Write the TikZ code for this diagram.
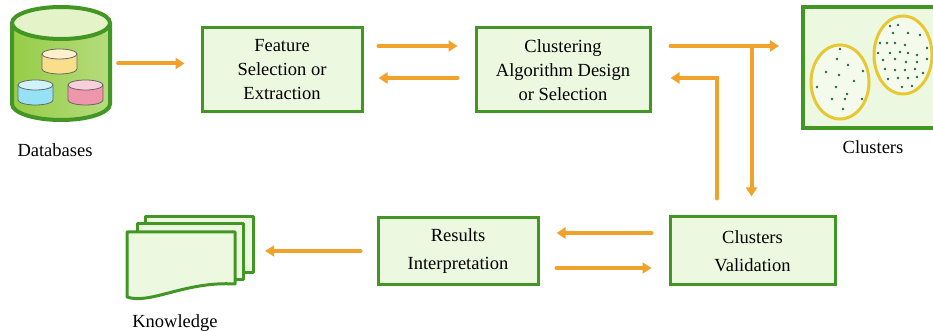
\documentclass[tikz,border=0pt]{standalone}
\usepackage{fontspec}
\setmainfont{Liberation Serif}
\usepackage{tikz}
\usetikzlibrary{calc,arrows.meta}
\definecolor{boxgreen}{RGB}{66,150,36}
\definecolor{boxfill}{RGB}{237,248,224}
\definecolor{flowcolor}{RGB}{240,162,42}
\definecolor{ringcolor}{RGB}{230,200,50}
\definecolor{dotcolor}{RGB}{40,100,70}
\definecolor{dbside}{RGB}{150,205,70}
\definecolor{dblight}{RGB}{228,244,200}
\definecolor{miniyellow}{RGB}{250,222,140}
\definecolor{miniblue}{RGB}{150,225,245}
\definecolor{minired}{RGB}{240,150,170}

\begin{document}
\begin{tikzpicture}[x=1pt,y=1pt,
	stage/.style={draw=boxgreen,line width=3pt,fill=boxfill,align=center,inner sep=0pt,font=\fontsize{18.5}{24}\selectfont},
	flow/.style={draw=flowcolor,line width=4pt,line cap=round,-{Triangle[length=9pt,width=11pt]}},
	caption/.style={font=\fontsize{18.5}{22}\selectfont},
	page/.style={draw=boxgreen,line width=3pt,fill=boxfill,line join=round},
	miniline/.style={draw=black!60,line width=0.8pt}]
	\useasboundingbox (0,0) rectangle (933,331);
	\node[minimum width=98pt,minimum height=113pt,inner sep=0pt] (db) at (61,267.5) {};
	\node[stage,minimum width=160pt,minimum height=84pt] (feature) at (282,261) {Feature\\Selection or\\Extraction};
	\node[stage,minimum width=174pt,minimum height=84pt] (clustering) at (563,261) {Clustering\\Algorithm Design\\or Selection};
	\node[stage,line width=4pt,minimum width=132pt,minimum height=121pt] (clusters) at (869,263.5) {};
	\node[stage,minimum width=165pt,minimum height=68pt] (valid) at (752.5,80) {Clusters\\[4pt]Validation};
	\node[stage,minimum width=160pt,minimum height=67pt] (results) at (458,80) {Results\\[4pt]Interpretation};
	\node[minimum width=126pt,minimum height=83pt,inner sep=0pt] (knowledge) at (190,72.5) {};
	\node[caption] (dbtext) at (55,181) {Databases};
	\node[caption] (clusterstext) at (873,184) {Clusters};
	\node[caption] (knowledgetext) at (175,8) {Knowledge};
	\shade[left color=dbside,middle color=dblight,right color=dbside!70] (12,308) -- (12,227) arc[start angle=180,end angle=360,x radius=49,y radius=16] -- (110,308) -- cycle;
	\draw[boxgreen,line width=4pt] (12,308) -- (12,227) arc[start angle=180,end angle=360,x radius=49,y radius=16] -- (110,308);
	\draw[boxgreen,line width=4pt,fill=dblight] (61,308) ellipse[x radius=49,y radius=16];
	\foreach \cx/\cy/\cc in {59.5/277/miniyellow,35.5/246/miniblue,85.5/246/minired}{
		\draw[miniline,fill=\cc] ({\cx-17.5},\cy) -- ({\cx-17.5},{\cy-15}) arc[start angle=180,end angle=360,x radius=17.5,y radius=5] -- ({\cx+17.5},\cy) -- cycle;
		\draw[miniline,fill=\cc!45] (\cx,\cy) ellipse[x radius=17.5,y radius=5];
	}
	\draw[ringcolor,line width=3pt,fill=boxfill!60] (840,249) ellipse[x radius=29,y radius=37];
	\draw[ringcolor,line width=3pt,fill=boxfill!60] (903,276) ellipse[x radius=29,y radius=39];
	\foreach \px/\py in {840/282,837/272,848/266,826/259,863/260,839/256,854/250,817/244,836/244,847/237,832/232,845/232,862/232,843/222,
		890/305,898/306,893/298,908/298,920/296,880/288,887/288,895/288,905/286,927/283,878/278,890/278,900/279,908/278,917/276,883/271,
		895/272,906/269,917/269,927/272,885/262,895/261,905/261,915/262,923/258,888/252,898/253,908/253,917/254,902/244,912/245}{
		\fill[dotcolor] (\px,\py) circle[radius=1.3];
	}
	\draw[page] (145,58) rectangle (253,114);
	\draw[page] (137,51) rectangle (243,107);
	\draw[page] (127,99) -- (235,99) -- (235,47) .. controls (185,50) and (150,26) .. (127,34) -- cycle;
	\draw[flow,shorten <=8pt,shorten >=16pt] (db.east) -- (db.east -| feature.west);
	\draw[flow,shorten <=15pt,shorten >=17pt] ([yshift=24pt]feature.east) -- ([yshift=24pt]clustering.west);
	\draw[flow,shorten <=17pt,shorten >=15pt] ([yshift=-8pt]clustering.west) -- ([yshift=-8pt]feature.east);
	\draw[flow,shorten <=19pt,shorten >=22pt] ([yshift=24pt]clustering.east) -- ([yshift=24pt]clustering.east -| clusters.west);
	\coordinate (split) at ($([yshift=24pt]clustering.east)+(100,0)$);
	\draw[flow,shorten >=19pt] (split) -- (split |- valid.north);
	\draw[flow,shorten <=17pt,shorten >=19pt] ([xshift=-35.5pt]valid.north) |- ([yshift=-8pt]clustering.east);
	\draw[flow,shorten <=17pt,shorten >=17pt] ([yshift=18pt]valid.west) -- ([yshift=18pt]results.east);
	\draw[flow,shorten <=17pt,shorten >=17pt] ([yshift=-17pt]results.east) -- ([yshift=-17pt]valid.west);
	\draw[flow,shorten <=16pt,shorten >=12pt] (results.west) -- (results.west -| knowledge.east);
\end{tikzpicture}
\end{document}
